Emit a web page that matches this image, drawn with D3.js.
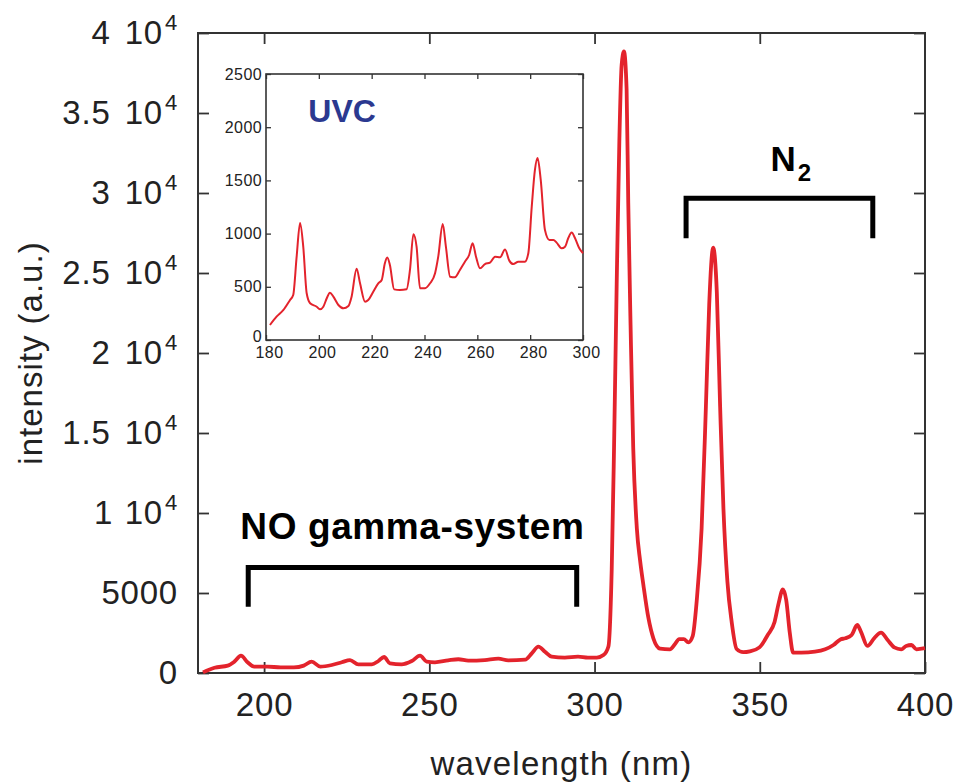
<!DOCTYPE html>
<html>
<head>
<meta charset="utf-8">
<script src="https://cdn.jsdelivr.net/npm/d3@7"></script>
<style>
  html, body { margin: 0; padding: 0; background: #fff; }
  svg { display: block; }
</style>
</head>
<body>
<div id="chart"></div>
<script>
// main spectrum
const mainWavelength = [181.5, 185, 189, 191, 193, 195, 197, 201, 205, 209, 212, 214.4, 217, 220.5, 223.5, 226, 228.5, 232.6, 234.6, 236.3, 238.1, 241.6, 244.7, 247.2, 249.2, 251.7, 255.7, 258.8, 261.8, 266.8, 270.9, 273.9, 279, 281, 283, 285, 287, 291, 295, 298, 300.7, 302.7, 304.2, 305.2, 305.9, 306.7, 307.5, 308.2, 308.9, 309.7, 310.2, 310.9, 311.7, 312.8, 313.8, 314.8, 316.3, 317.8, 319.8, 322.8, 324.3, 325.6, 327, 328.4, 329.7, 330.9, 332.4, 333.7, 334.7, 335.9, 337, 338, 339, 340.2, 341.5, 343, 345, 347, 349.9, 352.4, 354.5, 355.7, 357, 358, 359.1, 360.1, 362.6, 366.7, 369.8, 372.3, 374.4, 375.9, 377.8, 379.5, 380.6, 382.6, 384.6, 386.7, 388.7, 390.7, 392.8, 394.3, 395.9, 397.4, 400];
const mainIntensity = [40, 330, 460, 710, 1080, 670, 400, 400, 350, 350, 460, 710, 400, 500, 670, 810, 540, 540, 750, 1000, 600, 540, 750, 1080, 710, 670, 790, 860, 770, 810, 900, 790, 830, 1230, 1650, 1330, 1020, 960, 1020, 960, 960, 1120, 1660, 6500, 14100, 24300, 33200, 38000, 38850, 36500, 29400, 21750, 14100, 9040, 7000, 5475, 3440, 2170, 1530, 1480, 1790, 2120, 2120, 1910, 2300, 4460, 9040, 16670, 23030, 26590, 23800, 16670, 10300, 5730, 3190, 1500, 1300, 1350, 1600, 2375, 3210, 4350, 5230, 4560, 2480, 1270, 1270, 1330, 1480, 1750, 2100, 2170, 2375, 3000, 2590, 1690, 2170, 2520, 2060, 1600, 1480, 1690, 1750, 1480, 1550];

// UVC inset
const uvcWavelength = [181.5, 184, 186.6, 189.1, 190.3, 191.6, 192.9, 194.1, 195.4, 196.7, 199.2, 200.4, 201.7, 203, 204.2, 205.5, 207.4, 209.3, 211.2, 212.4, 214.3, 215.6, 217.5, 218.7, 220.6, 222.5, 223.8, 225, 225.9, 226.9, 228.5, 230.7, 233.2, 234.5, 235.8, 237, 238.3, 240.2, 242.1, 244, 245.2, 246.9, 248.1, 249.7, 251.5, 253.4, 255.3, 256.9, 258.2, 259.5, 261, 262.9, 264.8, 266.7, 268.6, 270.5, 272.1, 273.6, 275.5, 278, 279.3, 280.6, 281.8, 282.8, 284, 285.6, 287.3, 288.8, 290, 291.9, 293.2, 294.4, 295.7, 297, 298.6, 300];
const uvcIntensity = [141, 219, 282, 376, 423, 783, 1100, 877, 439, 345, 313, 288, 313, 392, 445, 407, 329, 298, 320, 407, 670, 533, 360, 376, 454, 533, 564, 721, 775, 705, 476, 470, 476, 658, 995, 877, 486, 486, 533, 627, 783, 1090, 877, 595, 589, 658, 736, 799, 910, 783, 674, 714, 727, 783, 777, 850, 746, 714, 736, 736, 815, 1253, 1598, 1710, 1504, 1034, 940, 940, 915, 862, 877, 956, 1010, 956, 862, 815];

// ticks
const xTicks = [200, 250, 300, 350, 400];
const yTicks = [0, 5000, 10000, 15000, 20000, 25000, 30000, 35000, 40000];
const yTickMantissa = ["0", "5000", "1", "1.5", "2", "2.5", "3", "3.5", "4"];
const yTickExponent = ["", "", "4", "4", "4", "4", "4", "4", "4"];
const uvcXTicks = [180, 200, 220, 240, 260, 280, 300];
const uvcYTicks = [0, 500, 1000, 1500, 2000, 2500];

// annotation brackets: [from nm, to nm, top, leg end] in data units
const bracketNO = [195.2, 294.6, 6600, 4140];
const bracketN2 = [327.7, 384.2, 29670, 27170];

const W = 954, H = 783;
const FONT = "'Liberation Sans', Arial, Helvetica, sans-serif";
const RED = "#e3232c";
const AXIS = "#333";

const svg = d3.select("#chart").append("svg")
  .attr("width", W)
  .attr("height", H);

// main scales
const x = d3.scaleLinear().domain([180, 400]).range([198, 925]);
const y = d3.scaleLinear().domain([0, 40000]).range([673, 33]);

// bottom axis
const gx = svg.append("g")
  .attr("transform", `translate(0,${y(0)})`)
  .call(d3.axisBottom(x).tickValues(xTicks).tickSizeInner(-11).tickSizeOuter(0).tickPadding(20));
// top ticks
const gxt = svg.append("g")
  .attr("transform", `translate(0,${y(40000)})`)
  .call(d3.axisTop(x).tickValues(xTicks.slice(0, -1)).tickSizeInner(-11).tickSizeOuter(0).tickFormat(""));
// left axis
const gy = svg.append("g")
  .attr("transform", `translate(${x(180)},0)`)
  .call(d3.axisLeft(y).tickValues(yTicks).tickSizeInner(-11).tickSizeOuter(0).tickPadding(20));
// right ticks
const gyr = svg.append("g")
  .attr("transform", `translate(${x(400)},0)`)
  .call(d3.axisRight(y).tickValues(yTicks).tickSizeInner(-11).tickSizeOuter(0).tickFormat(""));

[gx, gxt, gy, gyr].forEach(g => {
  g.attr("color", AXIS).attr("font-family", FONT).attr("font-size", 33);
  g.select(".domain").remove();
  g.selectAll(".tick line").attr("stroke-width", 1.8);
  g.selectAll(".tick text").attr("fill", "#222").attr("letter-spacing", 0.8);
});

// y labels like "3.5 10^4"
gy.selectAll(".tick text").each(function(d, i) {
  const t = d3.select(this).text(null);
  t.append("tspan").text(yTickMantissa[i]);
  if (yTickExponent[i]) {
    t.append("tspan").attr("dx", 14).text("10");
    t.append("tspan").attr("dx", 2).attr("dy", -14).attr("font-size", 22).text(yTickExponent[i]);
  }
});

// frame
svg.append("rect")
  .attr("x", x(180)).attr("y", y(40000))
  .attr("width", x(400) - x(180)).attr("height", y(0) - y(40000))
  .attr("fill", "none").attr("stroke", AXIS).attr("stroke-width", 2);

// axis titles
svg.append("text")
  .attr("x", (x(180) + x(400)) / 2).attr("y", 775)
  .attr("text-anchor", "middle")
  .attr("font-family", FONT).attr("font-size", 33).attr("letter-spacing", 1.2)
  .attr("fill", "#222")
  .text("wavelength (nm)");

svg.append("text")
  .attr("transform", `translate(42,${(y(0) + y(40000)) / 2}) rotate(-90)`)
  .attr("text-anchor", "middle")
  .attr("font-family", FONT).attr("font-size", 33).attr("letter-spacing", 1)
  .attr("fill", "#222")
  .text("intensity (a.u.)");

// main spectrum
const mainLine = d3.line()
  .x((d, i) => x(mainWavelength[i]))
  .y(d => y(d))
  .curve(d3.curveMonotoneX);

svg.append("path")
  .datum(mainIntensity)
  .attr("d", mainLine)
  .attr("fill", "none")
  .attr("stroke", RED)
  .attr("stroke-width", 3.8)
  .attr("stroke-linejoin", "round");

// brackets
function bracket(b) {
  return `M${x(b[0])},${y(b[3])}V${y(b[2])}H${x(b[1])}V${y(b[3])}`;
}
[bracketNO, bracketN2].forEach(b => {
  svg.append("path")
    .attr("d", bracket(b))
    .attr("fill", "none")
    .attr("stroke", "#000")
    .attr("stroke-width", 5)
    .attr("stroke-linejoin", "miter");
});

svg.append("text")
  .attr("x", x((bracketNO[0] + bracketNO[1]) / 2))
  .attr("y", y(bracketNO[2]) - 28)
  .attr("text-anchor", "middle")
  .attr("font-family", FONT).attr("font-size", 37).attr("font-weight", "bold")
  .attr("letter-spacing", 0.6)
  .attr("fill", "#000")
  .text("NO gamma-system");

const n2 = svg.append("text")
  .attr("x", x((bracketN2[0] + bracketN2[1]) / 2) - 9)
  .attr("y", y(bracketN2[2]) - 27)
  .attr("font-family", FONT).attr("font-size", 35).attr("font-weight", "bold")
  .attr("fill", "#000");
n2.append("tspan").text("N");
n2.append("tspan").attr("dx", 2).attr("dy", 10).attr("font-size", 24).text("2");

// ---- inset ----
const ix = d3.scaleLinear().domain([180, 300]).range([266, 583]);
const iy = d3.scaleLinear().domain([0, 2500]).range([340, 74]);

const inset = svg.append("g");

inset.append("rect")
  .attr("x", ix(180)).attr("y", iy(2500))
  .attr("width", ix(300) - ix(180)).attr("height", iy(0) - iy(2500))
  .attr("fill", "#fff");

const ibx = inset.append("g")
  .attr("transform", `translate(0,${iy(0)})`)
  .call(d3.axisBottom(ix).tickValues(uvcXTicks).tickFormat(d3.format("d"))
    .tickSizeInner(-5).tickSizeOuter(0).tickPadding(7));
const itx = inset.append("g")
  .attr("transform", `translate(0,${iy(2500)})`)
  .call(d3.axisTop(ix).tickValues(uvcXTicks).tickSizeInner(-5).tickSizeOuter(0).tickFormat(""));
const ily = inset.append("g")
  .attr("transform", `translate(${ix(180)},0)`)
  .call(d3.axisLeft(iy).tickValues(uvcYTicks).tickFormat(d3.format("d"))
    .tickSizeInner(-5).tickSizeOuter(0).tickPadding(4));
const iry = inset.append("g")
  .attr("transform", `translate(${ix(300)},0)`)
  .call(d3.axisRight(iy).tickValues(uvcYTicks).tickSizeInner(-5).tickSizeOuter(0).tickFormat(""));

[ibx, itx, ily, iry].forEach(g => {
  g.attr("color", AXIS).attr("font-family", FONT).attr("font-size", 16);
  g.select(".domain").remove();
  g.selectAll(".tick line").attr("stroke-width", 1.3);
  g.selectAll(".tick text").attr("fill", "#222").attr("letter-spacing", 0.4);
});
// x labels in the inset sit a touch right of their ticks
ibx.selectAll(".tick text").attr("dx", 3);
ily.selectAll(".tick text").filter(d => d === 0).attr("dy", "0.1em");

inset.append("rect")
  .attr("x", ix(180)).attr("y", iy(2500))
  .attr("width", ix(300) - ix(180)).attr("height", iy(0) - iy(2500))
  .attr("fill", "none").attr("stroke", AXIS).attr("stroke-width", 1.6);

const uvcLine = d3.line()
  .x((d, i) => ix(uvcWavelength[i]))
  .y(d => iy(d))
  .curve(d3.curveMonotoneX);

inset.append("path")
  .datum(uvcIntensity)
  .attr("d", uvcLine)
  .attr("fill", "none")
  .attr("stroke", RED)
  .attr("stroke-width", 2)
  .attr("stroke-linejoin", "round");

inset.append("text")
  .attr("x", ix(196))
  .attr("y", 122)
  .attr("font-family", FONT).attr("font-size", 32).attr("font-weight", "bold")
  .attr("fill", "#2b3990")
  .text("UVC");
</script>
</body>
</html>
